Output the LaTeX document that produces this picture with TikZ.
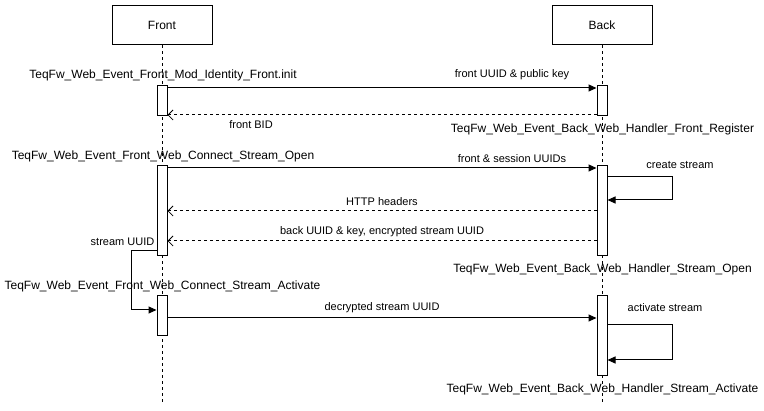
\documentclass[tikz,border=0pt]{standalone}
\usepackage{fontspec}
\setmainfont{Liberation Sans}
\usetikzlibrary{arrows.meta}
\begin{document}
\begin{tikzpicture}[x=1pt,y=-1pt,line width=1pt,
  actor/.style={draw,fill=white,minimum width=100pt,minimum height=39pt,inner sep=0pt,font=\fontsize{12}{14}\selectfont},
  life/.style={line width=0.8pt,dash pattern=on 3pt off 3pt},
  actbox/.style={draw,fill=white,minimum width=10pt,inner sep=0pt,anchor=north},
  call/.style={-{Triangle[length=8pt,width=7pt]}},
  reply/.style={dash pattern=on 3pt off 3pt,-{Straight Barb[length=5pt,width=10pt,line width=0.8pt]}},
  lbl/.style={inner sep=0pt,font=\fontsize{11}{13}\selectfont},
  fn/.style={inner sep=0pt,font=\fontsize{12}{14}\selectfont}]
\useasboundingbox (0,0) rectangle (764,411);

% participants
\node[actor] (front) at (162,25.5) {Front};
\node[actor] (back) at (602,25.5) {Back};
\coordinate (fend) at (162,405);
\coordinate (bend) at (602,405);
\draw[life] (front.south) -- (fend);
\draw[life] (back.south) -- (bend);

% activations
\node[actbox,minimum height=30pt] (fa1) at (162,85) {};
\node[actbox,minimum height=30pt] (ba1) at (602,85) {};
\node[actbox,minimum height=90pt] (fa2) at (162,165) {};
\node[actbox,minimum height=90pt] (ba2) at (602,165) {};
\node[actbox,minimum height=40pt] (fa3) at (162,295) {};
\node[actbox,minimum height=80pt] (ba3) at (602,295) {};

% identity registration
\draw[call] ([yshift=-3pt]fa1.north east) -- ([yshift=-3pt]ba1.north west);
\draw[reply] ([yshift=1pt]ba1.south west) -- ([yshift=1pt]fa1.south east);
\node[lbl] (m1) at (512,75) {front UUID \& public key};
\node[lbl] (m2) at (251,125) {front BID};
\node[fn] (f1) at (163,75) {TeqFw\_Web\_Event\_Front\_Mod\_Identity\_Front.init};
\node[fn] (b1) at (602.5,129) {TeqFw\_Web\_Event\_Back\_Web\_Handler\_Front\_Register};

% stream opening
\draw[call] ([yshift=-3pt]fa2.north east) -- ([yshift=-3pt]ba2.north west);
\draw[call] ([yshift=-12pt]ba2.north east) -- ++(65,0) |- ([yshift=-35pt]ba2.north east);
\draw[reply] ([yshift=-46pt]ba2.north west) -- ([yshift=-46pt]fa2.north east);
\draw[reply] ([yshift=-76pt]ba2.north west) -- ([yshift=-76pt]fa2.north east);
\node[lbl] (m3) at (512,159) {front \& session UUIDs};
\node[lbl] (m4) at (680,165) {create stream};
\node[lbl] (m5) at (382,202) {HTTP headers};
\node[lbl] (m6) at (382,232) {back UUID \& key, encrypted stream UUID};
\node[fn] (f2) at (163,156) {TeqFw\_Web\_Event\_Front\_Web\_Connect\_Stream\_Open};
\node[fn] (b2) at (602.5,269) {TeqFw\_Web\_Event\_Back\_Web\_Handler\_Stream\_Open};

% stream activation
\draw[call] ([yshift=5pt]fa2.south west) -- ++(-25,0) |- ([yshift=-15pt]fa3.north west);
\node[lbl] (m7) at (122.5,242) {stream UUID};
\draw[call] ([yshift=-23pt]fa3.north east) -- ([yshift=-23pt]ba3.north west);
\draw[call] ([yshift=-30pt]ba3.north east) -- ++(65,0) |- ([yshift=-65pt]ba3.north east);
\node[lbl] (m8) at (382,308) {decrypted stream UUID};
\node[lbl] (m9) at (665,308) {activate stream};
\node[fn] (f3) at (162.5,286) {TeqFw\_Web\_Event\_Front\_Web\_Connect\_Stream\_Activate};
\node[fn] (b3) at (602.5,389) {TeqFw\_Web\_Event\_Back\_Web\_Handler\_Stream\_Activate};
\end{tikzpicture}
\end{document}
